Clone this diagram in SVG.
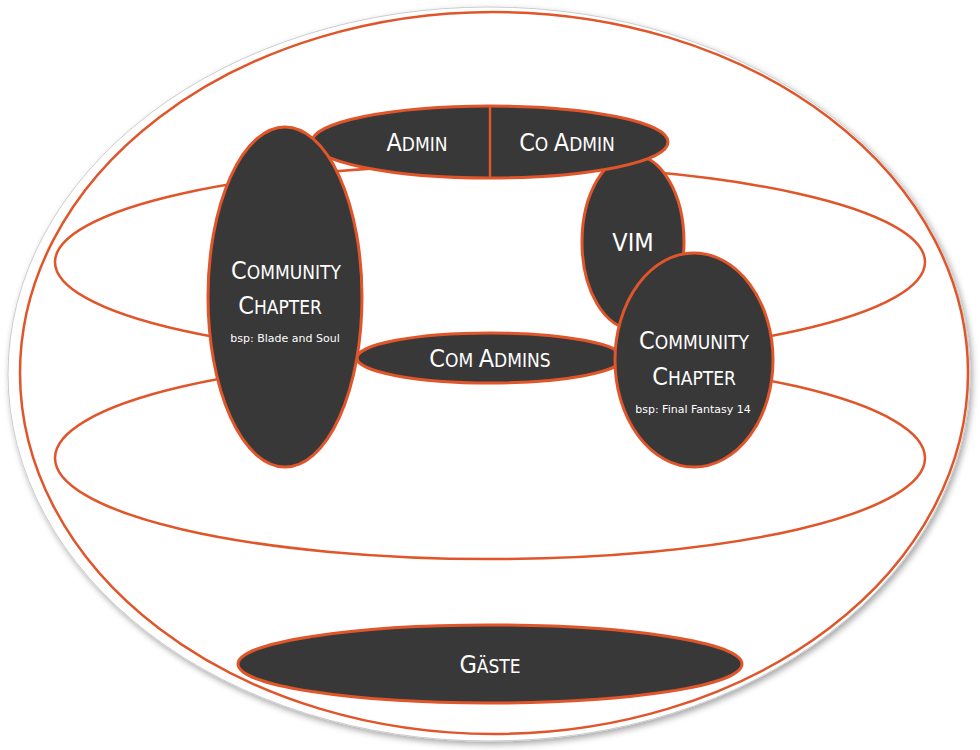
<svg xmlns="http://www.w3.org/2000/svg" width="980" height="750" viewBox="0 0 980 750">
<defs>
<filter id="sh" x="-5%" y="-5%" width="110%" height="110%"><feDropShadow dx="2" dy="3" stdDeviation="3" flood-color="#000" flood-opacity="0.35"/></filter>
<style>
.o{fill:none;stroke:#e0552a;stroke-width:2.5}
.n{fill:#383838;stroke:#e0552a;stroke-width:3}
text{fill:#fff;font-family:"DejaVu Sans Condensed","DejaVu Sans",sans-serif;text-anchor:middle}
.b{font-size:25px}.s{font-size:19px}.t{font-size:11px;font-family:"DejaVu Sans",sans-serif}
</style>
</defs>
<ellipse cx="489" cy="374" rx="481" ry="367" fill="#fff" stroke="#ccc" stroke-width="1" filter="url(#sh)"/>
<g id="rings">
<ellipse class="o" cx="494" cy="373" rx="474" ry="361"/>
<ellipse class="o" cx="490" cy="262" rx="435" ry="97"/>
<ellipse class="o" cx="490" cy="458" rx="435" ry="101"/>
</g>
<g id="connectors"></g>
<g id="comadmins"><ellipse class="n" cx="490" cy="358" rx="133" ry="25"/>
<text y="367" x="490"><tspan class="b">C</tspan><tspan class="s">OM </tspan><tspan class="b">A</tspan><tspan class="s">DMINS</tspan></text></g>
<g id="vim"><ellipse class="n" cx="633" cy="242" rx="51" ry="87"/>
<text x="633" y="251" class="b">VIM</text></g>
<g id="admin"><ellipse class="n" cx="490" cy="142" rx="178" ry="36"/>
<line x1="490" y1="107" x2="490" y2="177" stroke="#e0552a" stroke-width="2.5"/>
<text x="417" y="151"><tspan class="b">A</tspan><tspan class="s">DMIN</tspan></text>
<text x="567" y="151"><tspan class="b">C</tspan><tspan class="s">O </tspan><tspan class="b">A</tspan><tspan class="s">DMIN</tspan></text></g>
<g id="cc1"><ellipse class="n" cx="285" cy="297" rx="77" ry="170"/>
<text x="286" y="279"><tspan class="b">C</tspan><tspan class="s">OMMUNITY</tspan></text>
<text x="280" y="314"><tspan class="b">C</tspan><tspan class="s">HAPTER</tspan></text>
<text x="285" y="342" class="t">bsp: Blade and Soul</text></g>
<g id="cc2"><ellipse class="n" cx="694" cy="360" rx="79" ry="107"/>
<text x="694" y="349"><tspan class="b">C</tspan><tspan class="s">OMMUNITY</tspan></text>
<text x="694" y="385"><tspan class="b">C</tspan><tspan class="s">HAPTER</tspan></text>
<text x="693" y="413" class="t">bsp: Final Fantasy 14</text></g>
<g id="gaeste"><ellipse class="n" cx="490" cy="664" rx="252" ry="39"/>
<text x="490" y="673"><tspan class="b">G</tspan><tspan class="s">ÄSTE</tspan></text></g>
</svg>
